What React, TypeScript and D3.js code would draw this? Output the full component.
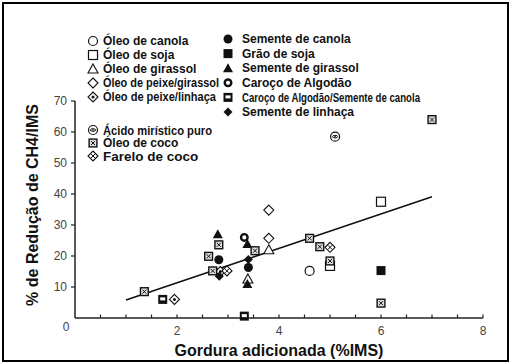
import React from "react";
import * as d3 from "d3";

// series (x = gordura adicionada %IMS, y = % redução CH4/IMS)
const oleoCanola = [[4.6, 15.2]];
const oleoSoja = [[6.0, 37.5], [5.0, 16.8]];
const oleoGirassol = [[3.8, 22.0], [3.39, 12.6]];
const peixeGirassol = [[3.8, 34.8], [3.8, 25.7]];
const peixeLinhaca = [[1.95, 6.0], [2.85, 15.0]];
const sementeCanola = [[2.82, 18.8], [3.4, 16.3]];
const graoSoja = [[6.0, 15.3]];
const sementeGirassol = [[2.8, 27.0], [3.38, 23.9], [3.38, 11.0]];
const carocoAlgodao = [[3.32, 26.0]];
const carocoCanola = [[1.72, 6.0], [3.32, 0.6]];
const sementeLinhaca = [[2.83, 13.5], [3.4, 18.9]];
const acidoMiristico = [[5.1, 58.5]];
const oleoCoco = [[7.0, 64.0], [2.82, 23.6], [2.62, 19.9], [2.7, 15.2], [1.36, 8.5], [3.53, 21.7], [4.6, 25.7], [4.8, 23.0], [5.0, 18.4], [6.0, 4.8]];
const fareloCoco = [[2.98, 15.2], [5.0, 22.8]];

// linha de regressão
const lineX = [1, 7];
const lineY = [5.8, 39.1];

const xTicks = [2, 4, 6, 8];
const yTicks = [10, 20, 30, 40, 50, 60, 70];

// tw = largura do texto na legenda (0 = natural)
const series1 = [
  { name: "Óleo de canola", sym: "circleOpen", data: oleoCanola, tw: 0 },
  { name: "Óleo de soja", sym: "squareOpen", data: oleoSoja, tw: 0 },
  { name: "Óleo de girassol", sym: "triOpen", data: oleoGirassol, tw: 0 },
  { name: "Óleo de peixe/girassol", sym: "diamondOpen", data: peixeGirassol, tw: 116 },
  { name: "Óleo de peixe/linhaça", sym: "diamondDot", data: peixeLinhaca, tw: 113 },
];
const series2 = [
  { name: "Semente de canola", sym: "circleFill", data: sementeCanola, tw: 0 },
  { name: "Grão de soja", sym: "squareFill", data: graoSoja, tw: 0 },
  { name: "Semente de girassol", sym: "triFill", data: sementeGirassol, tw: 0 },
  { name: "Caroço de Algodão", sym: "ring", data: carocoAlgodao, tw: 0 },
  { name: "Caroço de Algodão/Semente de canola", sym: "squareInner", data: carocoCanola, tw: 178 },
  { name: "Semente de linhaça", sym: "diamondFill", data: sementeLinhaca, tw: 0 },
];
const series3 = [
  { name: "Ácido mirístico puro", sym: "eye", data: acidoMiristico, tw: 109 },
  { name: "Óleo de coco", sym: "coco", data: oleoCoco, tw: 0 },
  { name: "Farelo de coco", sym: "diamondCross", data: fareloCoco, tw: 0 },
];

const W = 510, H = 364;
const margin = { left: 75, right: 27, top: 101, bottom: 46 };

function Sym({ type, x, y }: { type: string; x: number; y: number }) {
  const s = 4.5;
  const k = "#111";
  switch (type) {
    case "circleOpen":
      return <circle cx={x} cy={y} r={s} fill="#fff" stroke={k} strokeWidth={1.2} />;
    case "circleFill":
      return <circle cx={x} cy={y} r={s} fill={k} />;
    case "ring":
      return <circle cx={x} cy={y} r={s - 1.2} fill="#fff" stroke={k} strokeWidth={2.4} />;
    case "eye":
      return (
        <g>
          <circle cx={x} cy={y} r={s} fill="#fff" stroke={k} strokeWidth={1.2} />
          <ellipse cx={x} cy={y} rx={2.6} ry={1.3} fill="none" stroke={k} strokeWidth={1} />
          <circle cx={x} cy={y} r={0.8} fill={k} />
        </g>
      );
    case "squareOpen":
      return <rect x={x - s} y={y - s} width={2 * s} height={2 * s} fill="#fff" stroke={k} strokeWidth={1.2} />;
    case "squareFill":
      return <rect x={x - s} y={y - s} width={2 * s} height={2 * s} fill={k} />;
    case "squareInner":
      return (
        <g>
          <rect x={x - s} y={y - s} width={2 * s} height={2 * s} fill={k} />
          <rect x={x - 2.5} y={y - 2} width={5} height={3} fill="#fff" />
        </g>
      );
    case "coco":
      return (
        <g>
          <rect x={x - s + 0.6} y={y - s + 0.6} width={2 * s - 1.2} height={2 * s - 1.2} fill="#ddd" stroke={k} strokeWidth={1.4} />
          <path d={`M${x - 2},${y - 2}L${x + 2},${y + 2}M${x + 2},${y - 2}L${x - 2},${y + 2}`} stroke={k} strokeWidth={1} />
        </g>
      );
    case "triOpen":
      return <path d={`M${x},${y - s - 0.5}L${x + s + 0.5},${y + s - 0.5}L${x - s - 0.5},${y + s - 0.5}Z`} fill="#fff" stroke={k} strokeWidth={1.1} />;
    case "triFill":
      return <path d={`M${x},${y - s - 0.5}L${x + s + 0.5},${y + s - 0.5}L${x - s - 0.5},${y + s - 0.5}Z`} fill={k} />;
    case "diamondOpen":
      return <path d={`M${x},${y - s - 0.5}L${x + s + 0.5},${y}L${x},${y + s + 0.5}L${x - s - 0.5},${y}Z`} fill="#fff" stroke={k} strokeWidth={1.1} />;
    case "diamondFill":
      return <path d={`M${x},${y - s}L${x + s},${y}L${x},${y + s}L${x - s},${y}Z`} fill={k} />;
    case "diamondDot":
      return (
        <g>
          <path d={`M${x},${y - s - 0.5}L${x + s + 0.5},${y}L${x},${y + s + 0.5}L${x - s - 0.5},${y}Z`} fill="#fff" stroke={k} strokeWidth={1.1} />
          <circle cx={x} cy={y} r={1.5} fill={k} />
        </g>
      );
    case "diamondCross":
      return (
        <g>
          <path d={`M${x},${y - s - 0.5}L${x + s + 0.5},${y}L${x},${y + s + 0.5}L${x - s - 0.5},${y}Z`} fill="#fff" stroke={k} strokeWidth={1.1} />
          <path d={`M${x - 2},${y - 2}L${x + 2},${y + 2}M${x + 2},${y - 2}L${x - 2},${y + 2}`} stroke={k} strokeWidth={1} />
        </g>
      );
  }
  return null;
}

function Label({ x, y, text, size, tw }: { x: number; y: number; text: string; size: number; tw: number }) {
  const extra = tw ? { textLength: tw, lengthAdjust: "spacingAndGlyphs" } : {};
  return (
    <text x={x} y={y} dy="0.35em" fontSize={size} fontWeight="bold" fill="#111" {...extra}>{text}</text>
  );
}

export default function App() {
  const x = d3.scaleLinear().domain([0, 8]).range([margin.left, W - margin.right]);
  const y = d3.scaleLinear().domain([0, 70]).range([H - margin.bottom, margin.top]);
  const minorX = d3.range(0.5, 8.01, 0.5);
  const line = d3.line<number>().x((d) => x(d)).y((_, i) => y(lineY[i]));
  const all = [...series1, ...series2, ...series3];
  const font = "'Liberation Sans', Arial, Helvetica, sans-serif";

  return (
    <svg width={W} height={H} style={{ position: "absolute", left: 0, top: 0, background: "#fff" }} fontFamily={font}>
      <rect x={3} y={3} width={505} height={358} fill="#fff" stroke="#000" strokeWidth={2} />

      {/* axes */}
      <line x1={x(0)} x2={x(8)} y1={y(0)} y2={y(0)} stroke="#222" strokeWidth={1.5} />
      <line x1={x(0)} x2={x(0)} y1={y(0)} y2={y(70)} stroke="#222" strokeWidth={1.5} />
      {minorX.map((t) => (
        <line key={t} x1={x(t)} x2={x(t)} y1={y(0)} y2={y(0) - 3.5} stroke="#222" strokeWidth={1.2} />
      ))}
      {yTicks.map((t) => (
        <g key={t}>
          <line x1={x(0) - 4} x2={x(0)} y1={y(t)} y2={y(t)} stroke="#222" strokeWidth={1.2} />
          <text x={x(0) - 8} y={y(t)} dy="0.35em" textAnchor="end" fontSize={12} fill="#444">{t}</text>
        </g>
      ))}
      <text x={66} y={327} dy="0.35em" textAnchor="middle" fontSize={12} fill="#444">0</text>
      {xTicks.map((t) => (
        <text key={t} x={x(t)} y={331} dy="0.35em" textAnchor="middle" fontSize={12} fill="#444">{t}</text>
      ))}

      <text x={279} y={350} dy="0.35em" textAnchor="middle" fontSize={16} fontWeight="bold" fill="#111">Gordura adicionada (%IMS)</text>
      <text transform="translate(32,205) rotate(-90)" dy="0.35em" textAnchor="middle" fontSize={16} fontWeight="bold" fill="#111">% de Redução de CH4/IMS</text>

      {/* regression */}
      <path d={line(lineX) || ""} fill="none" stroke="#111" strokeWidth={1.6} />

      {/* points */}
      {all.map((s) =>
        s.data.map((d, i) => <Sym key={s.name + i} type={s.sym} x={x(d[0])} y={y(d[1])} />)
      )}

      {/* legend */}
      {series1.map((s, i) => (
        <g key={s.name}>
          <Sym type={s.sym} x={93} y={41 + i * 14} />
          <Label x={103} y={41 + i * 14} text={s.name} size={12} tw={s.tw} />
        </g>
      ))}
      {series2.map((s, i) => (
        <g key={s.name}>
          <Sym type={s.sym} x={228} y={39 + i * 14.6} />
          <Label x={242} y={39 + i * 14.6} text={s.name} size={12} tw={s.tw} />
        </g>
      ))}
      {series3.map((s, i) => (
        <g key={s.name}>
          <Sym type={s.sym} x={93} y={130 + i * 13} />
          <Label x={103} y={130 + i * 13} text={s.name} size={i === 1 ? 12 : 13.5} tw={s.tw} />
        </g>
      ))}
    </svg>
  );
}
